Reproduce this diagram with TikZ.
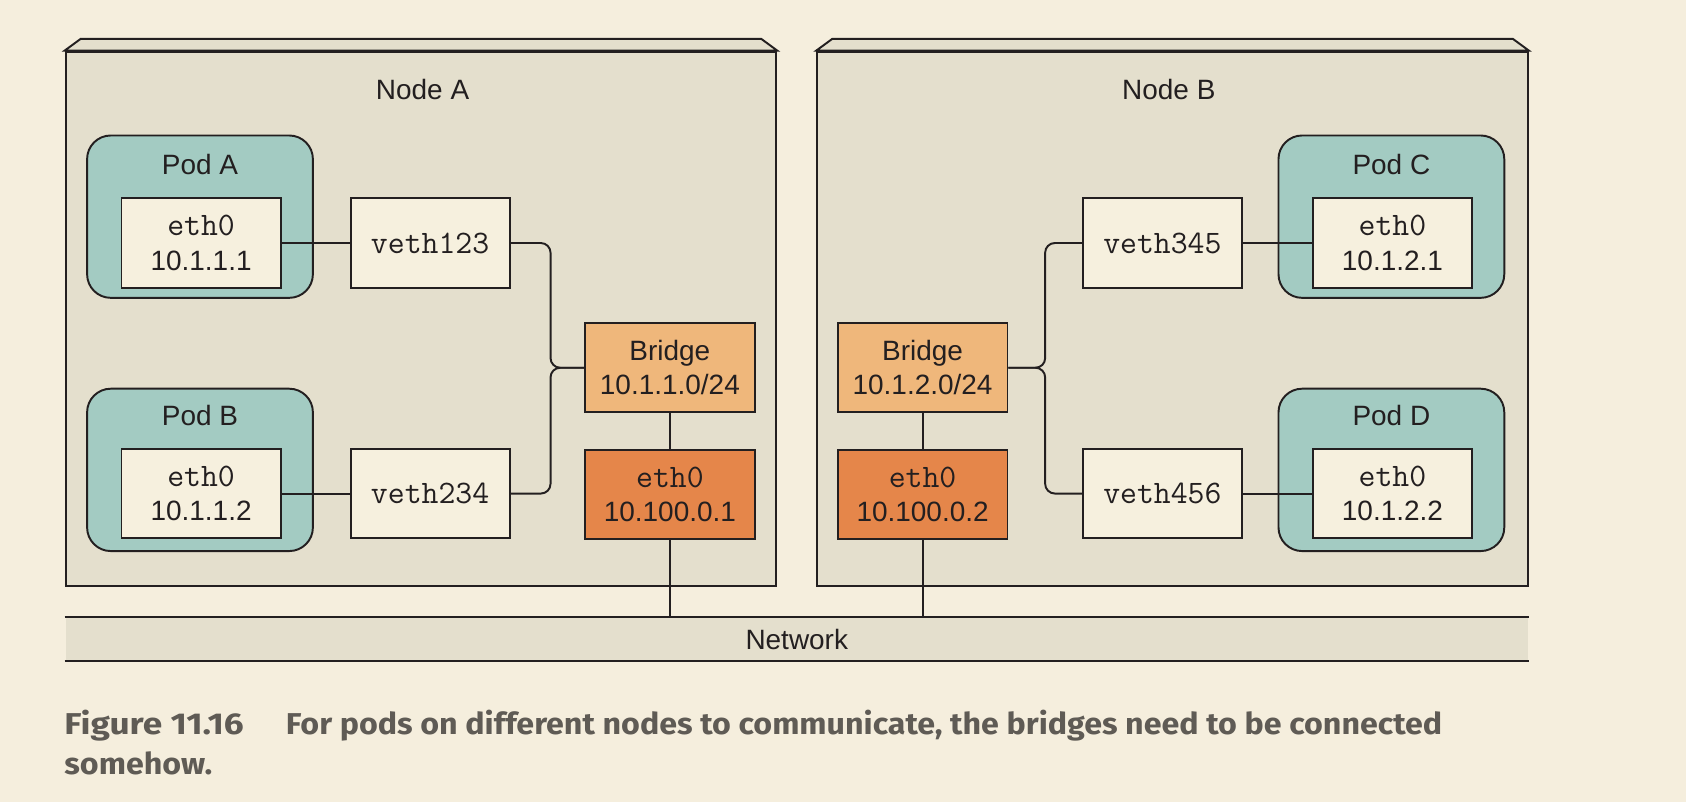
\documentclass[tikz,border=0pt]{standalone}
\usepackage{fontspec}
\setmainfont{Liberation Sans}
\newfontfamily\capfont[FakeStretch=1.07]{Fira Sans}
\newfontfamily\capnofont[FakeStretch=1.17]{Fira Sans}
\usetikzlibrary{calc}
\usetikzlibrary{positioning}

\definecolor{paper}{HTML}{F5EEDD}
\definecolor{hostfill}{HTML}{E4DFCD}
\definecolor{podfill}{HTML}{A3CBC2}
\definecolor{ifacefill}{HTML}{F6F0DE}
\definecolor{bridgefill}{HTML}{EFB77B}
\definecolor{ethfill}{HTML}{E5864A}
\definecolor{ink}{HTML}{231F20}
\definecolor{capgray}{HTML}{5F5B55}

\begin{document}
\begin{tikzpicture}[x=1pt, y=-1pt, line width=1.8pt, draw=ink,
    every node/.style={font=\fontsize{26}{32}\selectfont, text=ink, inner sep=0pt},
    hostbox/.style={draw=ink, fill=hostfill, minimum width=661pt, minimum height=497pt},
    podbox/.style={draw=ink, fill=podfill, rounded corners=22pt, minimum width=210pt, minimum height=151pt},
    ifacebox/.style={draw=ink, fill=ifacefill, minimum width=148pt, minimum height=83pt, align=center},
    bridgebox/.style={draw=ink, fill=bridgefill, minimum width=158pt, minimum height=83pt, align=center},
    ethbox/.style={draw=ink, fill=ethfill, minimum width=158pt, minimum height=83pt, align=center},
    wire/.style={draw=ink, line width=1.8pt, rounded corners=9pt},
    tt/.style={font=\fontsize{30.5}{33}\ttfamily},
    captxt/.style={anchor=base west, text=capgray}]
        % background
        \fill[paper] (0,0) rectangle (1568,746);

        % hosts
        \node[hostbox] (nodeA) at (391.5,296.5) {};
        \filldraw[fill=hostfill, draw=ink] (nodeA.north west) -- ++(15,-11) -- ($(nodeA.north east) + (-15,-11)$) -- (nodeA.north east) -- cycle;
        \node (labelA) at (393,83) {Node A};

        \node[hostbox] (nodeB) at (1090.5,296.5) {};
        \filldraw[fill=hostfill, draw=ink] (nodeB.north west) -- ++(15,-11) -- ($(nodeB.north east) + (-15,-11)$) -- (nodeB.north east) -- cycle;
        \node (labelB) at (1087,83) {Node B};

        % network
        \node[fill=hostfill, minimum width=1360pt, minimum height=39pt] (net) at (741,594.5) {Network};
        \draw (net.north west) -- (net.north east);
        \draw (net.south west) -- (net.south east);

        % pods
        \node[podbox] (podA) at (186,201.5) {};
        \node[podbox] (podB) at (186,437) {};
        \node[podbox] (podC) at (1294,201.5) {};
        \node[podbox] (podD) at (1294,437) {};
        \node at (186,153) {Pod A};
        \node at (186,386) {Pod B};
        \node at (1294,153) {Pod C};
        \node at (1294,386) {Pod D};

        % pod interfaces
        \node[ifacebox] (ethPA) at (187,226) {{\fontsize{30.5}{33}\ttfamily eth0}\\10.1.1.1};
        \node[ifacebox] (ethPB) at (187,459) {{\fontsize{30.5}{33}\ttfamily eth0}\\10.1.1.2};
        \node[ifacebox] (ethPC) at (1295,226) {{\fontsize{30.5}{33}\ttfamily eth0}\\10.1.2.1};
        \node[ifacebox] (ethPD) at (1295,459) {{\fontsize{30.5}{33}\ttfamily eth0}\\10.1.2.2};

        % veth pairs
        \node[ifacebox, tt] (veth123) at (400,226) {veth123};
        \node[ifacebox, tt] (veth234) at (400,459) {veth234};
        \node[ifacebox, tt] (veth345) at (1081,226) {veth345};
        \node[ifacebox, tt] (veth456) at (1081,459) {veth456};

        % bridges and host eth0
        \node[bridgebox] (bridgeA) at (623,342) {Bridge\\10.1.1.0/24};
        \node[bridgebox] (bridgeB) at (858,342) {Bridge\\10.1.2.0/24};
        \node[ethbox] (ethA) at (623,460) {{\fontsize{30.5}{33}\ttfamily eth0}\\10.100.0.1};
        \node[ethbox] (ethB) at (858,460) {{\fontsize{30.5}{33}\ttfamily eth0}\\10.100.0.2};

        % pod to veth
        \draw[wire] (ethPA.east) -- (veth123.west);
        \draw[wire] (ethPB.east) -- (veth234.west);
        \draw[wire] (veth345.east) -- (ethPC.west);
        \draw[wire] (veth456.east) -- (ethPD.west);

        % veth to bridge
        \coordinate (jA) at (512,342);
        \coordinate (jB) at (972,342);
        \draw[wire] (veth123.east) -| (jA) -- (bridgeA.west);
        \draw[wire] (veth234.east) -| (jA) -- (bridgeA.west);
        \draw[wire] (bridgeB.east) -- (jB) |- (veth345.west);
        \draw[wire] (bridgeB.east) -- (jB) |- (veth456.west);

        % bridge to eth0 to network
        \draw[wire] (bridgeA) -- (ethA);
        \draw[wire] (bridgeB) -- (ethB);
        \draw[wire] (ethA.south) -- (ethA.south |- net.north);
        \draw[wire] (ethB.south) -- (ethB.south |- net.north);

        % caption
        \node[captxt, font=\capnofont\bfseries\fontsize{28}{34}\selectfont] (figno) at (59,683.5) {Figure 11.16};
        \node[captxt, font=\capfont\bfseries\fontsize{28}{34}\selectfont] (captext) at (265,683.5) {For pods on different nodes to communicate, the bridges need to be connected};
        \node[captxt, font=\capfont\bfseries\fontsize{28}{34}\selectfont] (captext2) at (59,720.5) {somehow.};
\end{tikzpicture}
\end{document}
